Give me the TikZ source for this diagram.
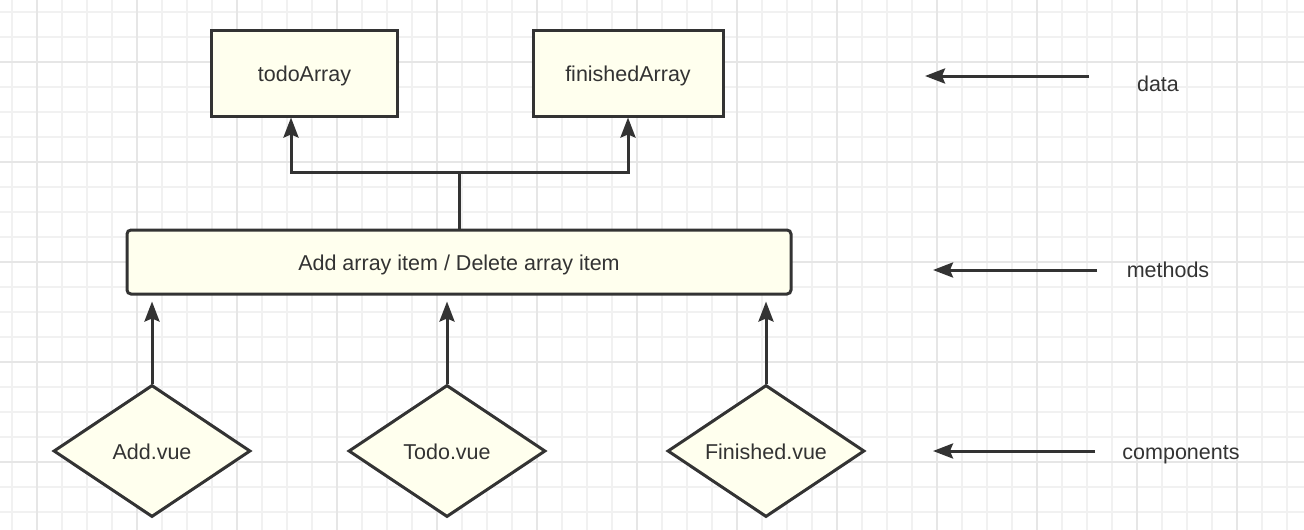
\documentclass[tikz,border=0pt]{standalone}
\usepackage{fontspec}
\setmainfont{Liberation Sans}
\usetikzlibrary{arrows.meta,shapes.geometric}
\definecolor{fillc}{HTML}{FFFFEE}
\definecolor{linec}{HTML}{333333}
\definecolor{gridminor}{HTML}{F1F1F1}
\definecolor{gridmajor}{HTML}{E6E6E6}
\tikzset{
  txt/.style={text=linec, font=\fontsize{21.5}{25}\selectfont, text height=20pt, text depth=4pt},
  box/.style={draw=linec, fill=fillc, line width=3pt, inner sep=0pt, txt},
  dia/.style={diamond, shape aspect=1.5, draw=linec, fill=fillc, line width=3pt, inner sep=0pt,
    minimum width=197pt, minimum height=132pt, txt, text height=16pt, text depth=0pt},
  lbl/.style={inner sep=0pt, txt},
  arr/.style={draw=linec, line width=3pt, -{Stealth[length=20pt,width=15pt,inset=3pt]}},
  conn/.style={draw=linec, line width=3pt}
}
\begin{document}
\begin{tikzpicture}[x=1pt,y=-1pt]
\useasboundingbox (0,0) rectangle (1304,530);
\fill[white] (0,0) rectangle (1304,530);
\foreach \x in {12,37,...,1304} \draw[gridminor,line width=1.5pt] (\x,0) -- (\x,530);
\foreach \y in {12,37,...,530} \draw[gridminor,line width=1.5pt] (0,\y) -- (1304,\y);
\foreach \x in {37,137,...,1304} \draw[gridmajor,line width=1.5pt] (\x,0) -- (\x,530);
\foreach \y in {62,162,...,530} \draw[gridmajor,line width=1.5pt] (0,\y) -- (1304,\y);

\node[box, minimum width=186pt, minimum height=86pt] (todo) at (304.5,73) {todoArray};
\node[box, minimum width=190pt, minimum height=86pt] (fin) at (628,73) {finishedArray};
\node[box, rounded corners=4pt, minimum width=664pt, minimum height=64pt] (meth) at (459,262) {Add array item / Delete array item};

\node[dia] (add) at (152,451) {Add.vue};
\node[dia] (todov) at (447,451) {Todo.vue};
\node[dia] (finv) at (766,451) {Finished.vue};

\coordinate (j) at (459,172);
\draw[conn] (meth.north) -- (j);
\draw[arr] (j) -| ([xshift=-13.5pt]todo.south);
\draw[arr] (j) -| (fin.south);

\draw[arr, shorten >=6pt] (add.north) -- (add.north |- meth.south);
\draw[arr, shorten >=6pt] (todov.north) -- (todov.north |- meth.south);
\draw[arr, shorten >=6pt] (finv.north) -- (finv.north |- meth.south);

\node[lbl] (ldata) at (1158,83) {data};
\node[lbl] (lmeth) at (1168,269) {methods};
\node[lbl] (lcomp) at (1181,451) {components};

\coordinate (d1) at (1089,76); \coordinate (d2) at (925,76);
\coordinate (m1) at (1097,270); \coordinate (m2) at (933,270);
\coordinate (c1) at (1095,451); \coordinate (c2) at (933,451);
\draw[arr] (d1) -- (d2);
\draw[arr] (m1) -- (m2);
\draw[arr] (c1) -- (c2);
\end{tikzpicture}
\end{document}
